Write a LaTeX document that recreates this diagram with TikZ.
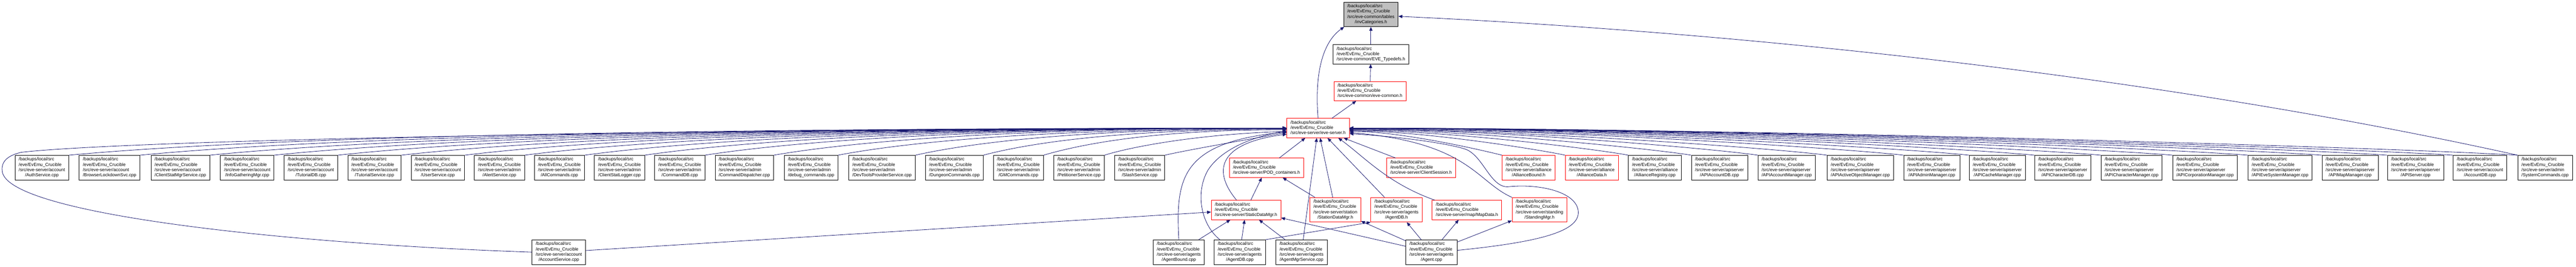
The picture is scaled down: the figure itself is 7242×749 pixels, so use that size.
\documentclass[tikz,border=0pt]{standalone}
\usepackage{fontspec}
\setmainfont{Liberation Sans}
\usetikzlibrary{arrows.meta}

\definecolor{midblue}{HTML}{191970}
\definecolor{grayfill}{HTML}{BFBFBF}

% file labels: first lines flush left, last line centred
\newcommand{\evefour}[2]{\begin{tabular}{@{}l@{}}/backups/local/src\\/eve/EvEmu\_Crucible\\#1\\\multicolumn{1}{@{}c@{}}{#2}\end{tabular}}
\newcommand{\evethree}[1]{\begin{tabular}{@{}l@{}}/backups/local/src\\/eve/EvEmu\_Crucible\\\multicolumn{1}{@{}c@{}}{#1}\end{tabular}}

\tikzset{every picture/.style={line width=1.2pt},
  filebox/.style={draw=black, fill=white, line width=1.2pt, inner xsep=10.3pt, inner ysep=5pt,
    font=\fontsize{12.5}{14.7}\selectfont},
  redbox/.style={filebox, draw=red},
  curbox/.style={filebox, fill=grayfill},
  dep/.style={draw=midblue, line width=1.2pt, -{Triangle[length=11pt,width=9pt]}}}

\begin{document}
\begin{tikzpicture}[x=1pt,y=1pt,yscale=-1,xscale=1]
\useasboundingbox (0,0) rectangle (7242,749);

% Node: included file
\node [curbox] (invcat) at (3854,40.5) {\evefour{/src/eve-common/tables}{/invCategories.h}};
% Node
\node [filebox] (typedefs) at (3854,152.5) {\evethree{/src/eve-common/EVE\_Typedefs.h}};
% Node
\node [redbox] (evecommon) at (3851.5,256) {\evethree{/src/eve-common/eve-common.h}};
% Node
\node [redbox] (eveserver) at (3705.5,360) {\evethree{/src/eve-server/eve-server.h}};

% Row 1, left of eve-server.h
\node [filebox] (auth) at (117.8,471) {\evefour{/src/eve-server/account}{/AuthService.cpp}};
\node [filebox] (browser) at (308,471) {\evefour{/src/eve-server/account}{/BrowserLockdownSvc.cpp}};
\node [filebox] (clientstat) at (507,471) {\evefour{/src/eve-server/account}{/ClientStatMgrService.cpp}};
\node [filebox] (infogather) at (695,471) {\evefour{/src/eve-server/account}{/InfoGatheringMgr.cpp}};
\node [filebox] (tutorialdb) at (874,471) {\evefour{/src/eve-server/account}{/TutorialDB.cpp}};
\node [filebox] (tutorialsvc) at (1052.8,471) {\evefour{/src/eve-server/account}{/TutorialService.cpp}};
\node [filebox] (usersvc) at (1231,471) {\evefour{/src/eve-server/account}{/UserService.cpp}};
\node [filebox] (alertsvc) at (1404,471) {\evefour{/src/eve-server/admin}{/AlertService.cpp}};
\node [filebox] (allcmds) at (1572.6,471) {\evefour{/src/eve-server/admin}{/AllCommands.cpp}};
\node [filebox] (statlogger) at (1741.5,471) {\evefour{/src/eve-server/admin}{/ClientStatLogger.cpp}};
\node [filebox] (commanddb) at (1911,471) {\evefour{/src/eve-server/admin}{/CommandDB.cpp}};
\node [filebox] (dispatcher) at (2092.5,471) {\evefour{/src/eve-server/admin}{/CommandDispatcher.cpp}};
\node [filebox] (debugcmds) at (2280.3,471) {\evefour{/src/eve-server/admin}{/debug\_commands.cpp}};
\node [filebox] (devtools) at (2479.5,471) {\evefour{/src/eve-server/admin}{/DevToolsProviderService.cpp}};
\node [filebox] (dungeon) at (2683,471) {\evefour{/src/eve-server/admin}{/DungeonCommands.cpp}};
\node [filebox] (gmcmds) at (2863,471) {\evefour{/src/eve-server/admin}{/GMCommands.cpp}};
\node [filebox] (petitioner) at (3033.5,471) {\evefour{/src/eve-server/admin}{/PetitionerService.cpp}};
\node [filebox] (slash) at (3204,471) {\evefour{/src/eve-server/admin}{/SlashService.cpp}};

% Row 1, right of eve-server.h
\node [redbox] (allybound) at (4297.5,471) {\evefour{/src/eve-server/alliance}{/AllianceBound.h}};
\node [redbox] (allydata) at (4475,471) {\evefour{/src/eve-server/alliance}{/AllianceData.h}};
\node [filebox] (allyreg) at (4652.5,471) {\evefour{/src/eve-server/alliance}{/AllianceRegistry.cpp}};
\node [filebox] (apiacctdb) at (4834,471) {\evefour{/src/eve-server/apiserver}{/APIAccountDB.cpp}};
\node [filebox] (apiacctmgr) at (5023,471) {\evefour{/src/eve-server/apiserver}{/APIAccountManager.cpp}};
\node [filebox] (apiactive) at (5230,471) {\evefour{/src/eve-server/apiserver}{/APIActiveObjectManager.cpp}};
\node [filebox] (apiadmin) at (5431,471) {\evefour{/src/eve-server/apiserver}{/APIAdminManager.cpp}};
\node [filebox] (apicache) at (5615,471) {\evefour{/src/eve-server/apiserver}{/APICacheManager.cpp}};
\node [filebox] (apichardb) at (5799,471) {\evefour{/src/eve-server/apiserver}{/APICharacterDB.cpp}};
\node [filebox] (apicharmgr) at (5992.5,471) {\evefour{/src/eve-server/apiserver}{/APICharacterManager.cpp}};
\node [filebox] (apicorp) at (6199,471) {\evefour{/src/eve-server/apiserver}{/APICorporationManager.cpp}};
\node [filebox] (apievesys) at (6410,471) {\evefour{/src/eve-server/apiserver}{/APIEveSystemManager.cpp}};
\node [filebox] (apimap) at (6607,471) {\evefour{/src/eve-server/apiserver}{/APIMapManager.cpp}};
\node [filebox] (apiserver) at (6791,471) {\evefour{/src/eve-server/apiserver}{/APIServer.cpp}};
\node [filebox] (accountdb) at (6972,471) {\evefour{/src/eve-server/account}{/AccountDB.cpp}};
\node [filebox] (syscmds) at (7155,471) {\evefour{/src/eve-server/admin}{/SystemCommands.cpp}};

% Middle headers
\node [redbox] (podcont) at (3560.5,471.5) {\evethree{/src/eve-server/POD\_containers.h}};
\node [redbox] (clientsess) at (3995,471.5) {\evethree{/src/eve-server/ClientSession.h}};
\node [redbox] (staticdata) at (3503,590) {\evethree{/src/eve-server/StaticDataMgr.h}};
\node [redbox] (stationdata) at (3754,589.5) {\evefour{/src/eve-server/station}{/StationDataMgr.h}};
\node [redbox] (agentdbh) at (3926,589.5) {\evefour{/src/eve-server/agents}{/AgentDB.h}};
\node [redbox] (mapdata) at (4124,590) {\evethree{/src/eve-server/map/MapData.h}};
\node [redbox] (standing) at (4328,589.5) {\evefour{/src/eve-server/standing}{/StandingMgr.h}};

% Bottom row
\node [filebox] (accountsvc) at (1571,708.5) {\evefour{/src/eve-server/account}{/AccountService.cpp}};
\node [filebox] (agentbound) at (3314,708.5) {\evefour{/src/eve-server/agents}{/AgentBound.cpp}};
\node [filebox] (agentdbcpp) at (3485.5,708.5) {\evefour{/src/eve-server/agents}{/AgentDB.cpp}};
\node [filebox] (agentmgr) at (3659,708.5) {\evefour{/src/eve-server/agents}{/AgentMgrService.cpp}};
\node [filebox] (agentcpp) at (4024.5,708.5) {\evefour{/src/eve-server/agents}{/Agent.cpp}};

% Edges: top chain
\draw [dep] (typedefs) -- (invcat);
\draw [dep] (evecommon) -- (typedefs);
\draw [dep] (eveserver) -- (evecommon);
\draw [dep] (eveserver.north) .. controls +(-10,-123) and +(-62,44) .. (invcat.205.6);
\draw [dep] (syscmds.north west) .. controls +(-1074,-237) and +(866,40) .. (invcat.-4);

% Edges: left fan
\draw [dep] (auth.north east) .. controls +(513,-47) and +(-1883,0) .. (eveserver.west);
\draw [dep] (browser.north east) .. controls +(483,-46) and +(-1772,0) .. (eveserver.west);
\draw [dep] (clientstat.north east) .. controls +(454,-45) and +(-1664,0) .. (eveserver.west);
\draw [dep] (infogather.north east) .. controls +(427,-44) and +(-1565,0) .. (eveserver.west);
\draw [dep] (tutorialdb.north east) .. controls +(400,-43) and +(-1467,0) .. (eveserver.west);
\draw [dep] (tutorialsvc.north east) .. controls +(373,-42) and +(-1368,0) .. (eveserver.west);
\draw [dep] (usersvc.north east) .. controls +(346,-42) and +(-1270,0) .. (eveserver.west);
\draw [dep] (alertsvc.north east) .. controls +(321,-41) and +(-1178,0) .. (eveserver.west);
\draw [dep] (allcmds.north east) .. controls +(296,-40) and +(-1085,0) .. (eveserver.west);
\draw [dep] (statlogger.north east) .. controls +(270,-39) and +(-992,0) .. (eveserver.west);
\draw [dep] (commanddb.north east) .. controls +(245,-38) and +(-899,0) .. (eveserver.west);
\draw [dep] (dispatcher.north east) .. controls +(216,-37) and +(-792,0) .. (eveserver.west);
\draw [dep] (debugcmds.north east) .. controls +(189,-36) and +(-692,0) .. (eveserver.181);
\draw [dep] (devtools.north east) .. controls +(156,-35) and +(-574,0) .. (eveserver.181);
\draw [dep] (dungeon.north east) .. controls +(128,-34) and +(-468,0) .. (eveserver.182);
\draw [dep] (gmcmds.north east) .. controls +(102,-30) and +(-376,0) .. (eveserver.183);
\draw [dep] (petitioner.north east) .. controls +(77,-24) and +(-250,8) .. (eveserver.186);
\draw [dep] (slash.north east) .. controls +(60,-14) and +(-100,18) .. (eveserver.188);

% Edges: right fan
\draw [dep] (allybound.north west) .. controls +(-60,-15) and +(145,0) .. (eveserver.-6);
\draw [dep] (allydata.north west) .. controls +(-69,-15) and +(206,0) .. (eveserver.-5);
\draw [dep] (allyreg.north west) .. controls +(-89,-17) and +(266,0) .. (eveserver.-4);
\draw [dep] (apiacctdb.north west) .. controls +(-109,-18) and +(326,0) .. (eveserver.-3);
\draw [dep] (apiacctmgr.north west) .. controls +(-131,-19) and +(389,0) .. (eveserver.-2);
\draw [dep] (apiactive.north west) .. controls +(-153,-20) and +(455,0) .. (eveserver.-2);
\draw [dep] (apiadmin.north west) .. controls +(-178,-20) and +(530,0) .. (eveserver.-1);
\draw [dep] (apicache.north west) .. controls +(-199,-21) and +(592,0) .. (eveserver.-1);
\draw [dep] (apichardb.north west) .. controls +(-220,-21) and +(655,0) .. (eveserver.east);
\draw [dep] (apicharmgr.north west) .. controls +(-241,-21) and +(718,0) .. (eveserver.east);
\draw [dep] (apicorp.north west) .. controls +(-264,-22) and +(786,0) .. (eveserver.east);
\draw [dep] (apievesys.north west) .. controls +(-288,-22) and +(858,0) .. (eveserver.east);
\draw [dep] (apimap.north west) .. controls +(-312,-22) and +(930,0) .. (eveserver.east);
\draw [dep] (apiserver.north west) .. controls +(-333,-22) and +(992,0) .. (eveserver.east);
\draw [dep] (accountdb.north west) .. controls +(-354,-22) and +(1055,0) .. (eveserver.east);
\draw [dep] (syscmds.north west) .. controls +(-374,-22) and +(1115,0) .. (eveserver.east);

% Edges: middle headers
\draw [dep] (podcont) -- (eveserver);
\draw [dep] (clientsess) -- (eveserver);
\draw [dep] (stationdata) -- (eveserver);
\draw [dep] (agentdbh) -- (eveserver);
\draw [dep] (staticdata) -- (podcont);
\draw [dep] (stationdata) -- (podcont);
\draw [dep] (staticdata.134) .. controls (3400,470) and (3440,400) .. (eveserver.191);
\draw [dep] (mapdata.163) .. controls (3900,515) and (3835,440) .. (eveserver.-26);
\draw [dep] (standing.north west) .. controls (4150,510) and (4130,400) .. (eveserver.-8);

% Edges: bottom row
\draw [dep] (accountsvc) -- (staticdata);
\draw [dep] (accountsvc.west) .. controls (800,685) and (6,600) .. (6,478) .. controls (4,455) and (20,437) .. (60,428) .. controls (300,400) and (1500,366) .. (eveserver.west);
\draw [dep] (agentbound) -- (staticdata);
\draw [dep] (agentbound.north) .. controls (3305,500) and (3320,400) .. (eveserver.187);
\draw [dep] (agentdbcpp) -- (staticdata);
\draw [dep] (agentdbcpp.north east) -- (agentdbh.south west);
\draw [dep] (agentdbcpp.148) .. controls (3375,630) and (3360,540) .. (3396,478) .. controls (3420,440) and (3480,392) .. (eveserver.185);
\draw [dep] (agentmgr) -- (staticdata);
\draw [dep] (agentmgr) -- (eveserver);
\draw [dep] (agentcpp) -- (staticdata);
\draw [dep] (agentcpp) -- (stationdata);
\draw [dep] (agentcpp) -- (agentdbh);
\draw [dep] (agentcpp) -- (mapdata);
\draw [dep] (agentcpp) -- (standing);
\draw [dep] (agentcpp.4) .. controls (4330,680) and (4440,650) .. (4437,595) .. controls (4434,540) and (4330,515) .. (4238,525) .. controls (4190,525) and (4170,440) .. (4122,420) .. controls (4080,405) and (3950,385) .. (eveserver.-10);

\end{tikzpicture}
\end{document}
